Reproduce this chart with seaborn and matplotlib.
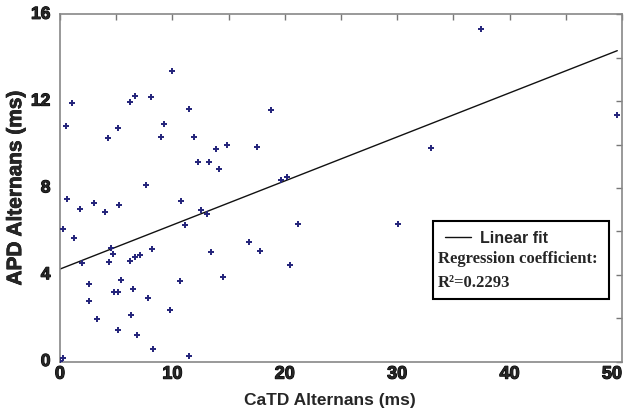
import numpy as np
import pandas as pd
import matplotlib
matplotlib.use('Agg')
import matplotlib.pyplot as plt
import matplotlib.patheffects as pe
import seaborn as sns
from matplotlib.patches import Rectangle
from matplotlib.ticker import MultipleLocator

# CaTD alternans (ms) vs APD alternans (ms)
catd = [0.0, 0.3, 0.24, 0.5, 0.62, 1.04, 1.27, 1.75, 1.99, 2.61, 2.61, 3.05, 3.27,
        3.97, 4.3, 4.36, 4.51, 4.75, 4.78, 5.16, 5.16, 5.19, 5.28, 5.4, 6.23, 6.25,
        6.29, 6.52, 6.67, 6.67, 6.82, 7.09, 7.65, 7.83, 8.1, 8.16, 8.27, 8.99, 9.25,
        9.76, 10.0, 10.7, 10.77, 11.12, 11.45, 11.48, 11.95, 12.28, 12.58, 13.05,
        13.29, 13.46, 13.9, 14.15, 14.53, 14.83, 16.84, 17.53, 17.8, 18.73, 19.63,
        20.2, 20.43, 21.14, 30.09, 33.0, 37.46, 49.58]
apd = [0.02, 0.18, 6.1, 10.87, 7.5, 11.91, 5.71, 7.01, 4.52, 3.57, 2.77, 7.29, 1.96,
       6.88, 10.3, 4.6, 5.21, 4.95, 3.22, 10.77, 1.45, 3.22, 7.23, 3.77, 11.94, 4.62,
       2.16, 3.34, 12.23, 4.8, 1.22, 4.92, 8.12, 2.93, 12.2, 5.2, 0.58, 10.33, 10.94,
       2.39, 13.39, 3.7, 7.4, 6.29, 11.64, 0.27, 10.36, 9.18, 7.0, 6.78,
       9.18, 5.05, 9.79, 8.86, 3.91, 9.96, 5.52, 9.88, 5.11, 11.59, 8.35,
       8.5, 4.46, 6.34, 6.35, 9.82, 15.32, 11.37]

x_ticks = [0, 10, 20, 30, 40, 50]
y_ticks = [0, 4, 8, 12, 16]

# linear fit as drawn in the figure
fit_intercept = 4.26
fit_slope = 0.203
r2_text = 'R\u00b2=0.2293'

df = pd.DataFrame({'CaTD': catd, 'APD': apd})

sns.set_style('white')
sans = 'Liberation Sans'
plt.rcParams['font.family'] = [sans, 'DejaVu Sans']

fig = plt.figure(figsize=(6.26, 4.15), dpi=100)
ax = fig.add_axes([0.0958, 0.1289, 0.8978, 0.8366])

sns.scatterplot(data=df, x='CaTD', y='APD', marker='+', s=24, color='#23237a',
                linewidth=1.4, ax=ax, zorder=3)

xf = np.linspace(df.CaTD.min(), df.CaTD.max(), 50)
line, = ax.plot(xf, fit_intercept + fit_slope * xf, color='#111111', lw=1.0, zorder=2)

ax.set_xlim(0, 50)
ax.set_ylim(0, 16)
ax.set_xticks(x_ticks)
ax.set_yticks(y_ticks)
ax.xaxis.set_minor_locator(MultipleLocator(5))
ax.yaxis.set_minor_locator(MultipleLocator(2))
ax.tick_params(which='both', direction='in', top=True, right=True, length=4,
               color='#777777', width=1, labelbottom=False, labelleft=False)
for sp in ax.spines.values():
    sp.set_color('#888888')
    sp.set_linewidth(1.2)

# tick labels written as text so weight and placement stay as in the figure
thick = [pe.withStroke(linewidth=0.8, foreground='black')]
for v in x_ticks:
    ha = 'right' if v == x_ticks[-1] else 'center'
    ax.text(v, -0.012, str(v), transform=ax.get_xaxis_transform(), ha=ha, va='top',
            fontsize=13, fontweight='bold', path_effects=thick, clip_on=False)
for v in y_ticks:
    ax.text(-0.017, v, str(v), transform=ax.get_yaxis_transform(), ha='right',
            va='center', fontsize=12.5, fontweight='bold', path_effects=thick,
            clip_on=False)

ax.set_xlabel('CaTD Alternans (ms)', fontweight='bold', fontsize=12.5)
ax.set_ylabel('APD Alternans (ms)', fontweight='bold', fontsize=15,
              path_effects=[pe.withStroke(linewidth=0.5, foreground='black')])
ax.xaxis.set_label_coords(0.48, -0.09)
ax.yaxis.set_label_coords(-0.062, 0.5)

# legend box
ax.add_patch(Rectangle((0.664, 0.179), 0.313, 0.2265, transform=ax.transAxes,
                       fill=True, facecolor='white', edgecolor='black', lw=1.5, zorder=4))
leg = ax.legend([line], ['Linear fit'], loc='upper left', bbox_to_anchor=(0.66, 0.418),
                frameon=False, handlelength=1.6, handletextpad=0.6,
                prop={'family': sans, 'weight': 'bold', 'size': 11.5})
leg.set_zorder(5)
ax.text(0.672, 0.295, 'Regression coefficient:', transform=ax.transAxes,
        fontfamily='Liberation Serif', fontweight='bold', fontsize=12, va='center',
        zorder=5)
ax.text(0.672, 0.225, r2_text, transform=ax.transAxes,
        fontfamily='Liberation Serif', fontweight='bold', fontsize=12, va='center',
        zorder=5)

plt.savefig('out.png', dpi=100)
